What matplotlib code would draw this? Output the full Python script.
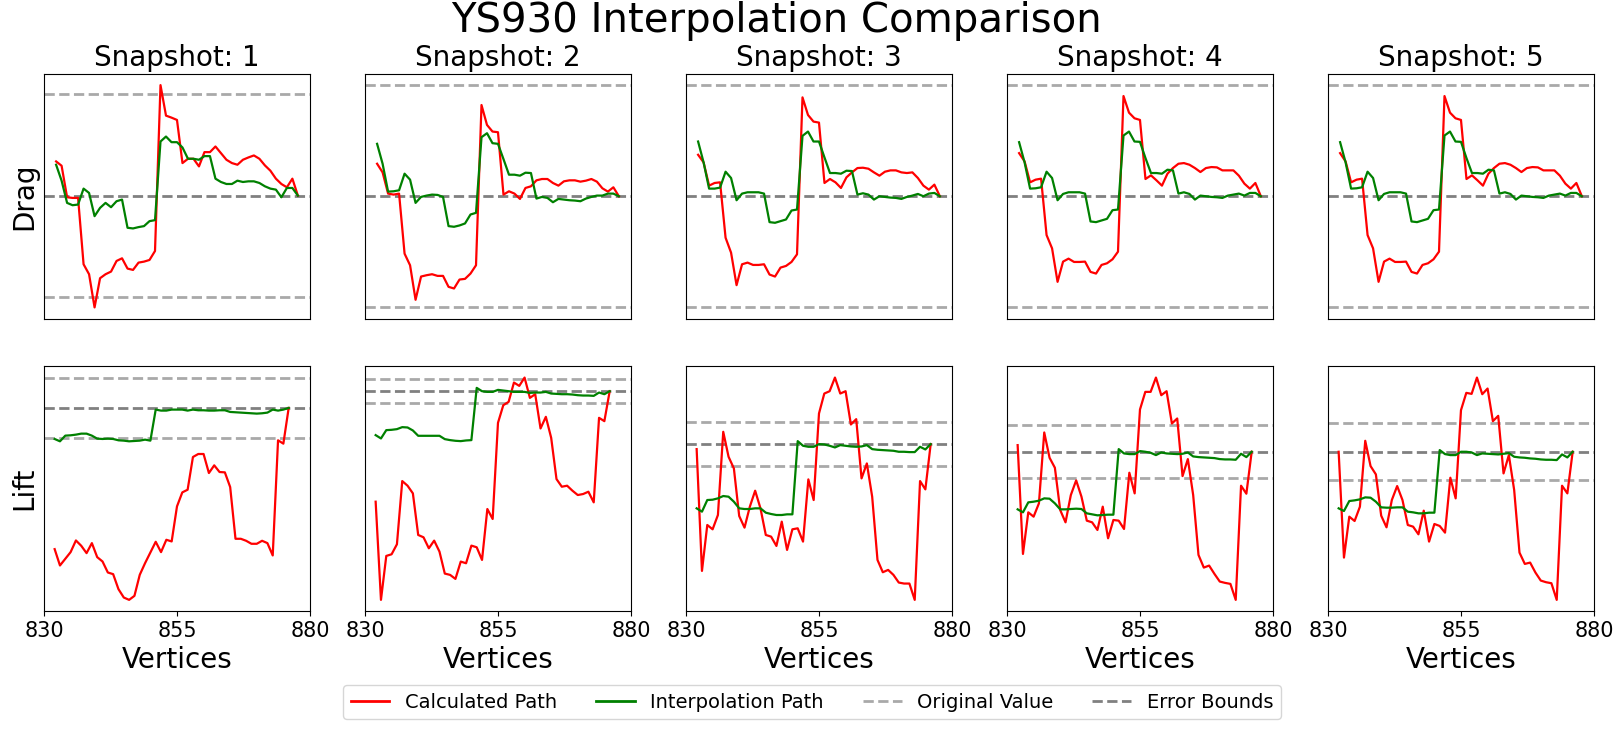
import matplotlib
matplotlib.use("Agg")
import matplotlib.pyplot as plt

# vertex indices on the x axis
vertices = list(range(832, 877))
snapshots = [1, 2, 3, 4, 5]

# values are deviations from the original value (arbitrary units)
drag_calc_1 = [1.03, 0.90, -0.05, -0.07, -0.07, -2.07, -2.37, -3.37, -2.49, -2.37, -2.29, -1.97, -1.89, -2.20, -2.24,
               -2.02, -1.99, -1.94, -1.67, 3.33, 2.41, 2.35, 2.28, 0.98, 1.11, 1.11, 0.88, 1.31, 1.31, 1.48,
               1.28, 1.08, 0.98, 0.93, 1.08, 1.15, 1.21, 1.11, 0.91, 0.75, 0.51, 0.35, 0.25, 0.51, 0.00]
drag_interp_1 = [0.93, 0.45, -0.22, -0.29, -0.27, 0.21, 0.08, -0.62, -0.37, -0.22, -0.35, -0.17, -0.12, -0.97, -0.99,
                 -0.95, -0.92, -0.77, -0.74, 1.63, 1.78, 1.61, 1.61, 1.45, 1.11, 1.11, 1.08, 1.19, 1.19, 0.51,
                 0.41, 0.35, 0.35, 0.45, 0.41, 0.43, 0.43, 0.38, 0.28, 0.21, 0.18, -0.05, 0.23, 0.23, 0.00]

drag_calc_2 = [0.98, 0.72, 0.08, 0.05, 0.08, -1.73, -2.08, -3.12, -2.42, -2.38, -2.35, -2.40, -2.40, -2.73, -2.78,
               -2.51, -2.49, -2.33, -2.08, 2.75, 2.15, 1.95, 1.93, 0.05, 0.15, 0.08, -0.08, 0.25, 0.30, 0.48,
               0.52, 0.52, 0.40, 0.32, 0.45, 0.48, 0.48, 0.44, 0.47, 0.52, 0.44, 0.24, 0.14, 0.27, 0.00]
drag_interp_2 = [1.58, 0.98, 0.14, 0.15, 0.18, 0.68, 0.50, -0.20, -0.02, 0.02, 0.05, 0.04, -0.02, -0.90, -0.92,
                 -0.88, -0.82, -0.55, -0.50, 1.78, 1.90, 1.60, 1.58, 1.12, 0.65, 0.65, 0.62, 0.71, 0.70, -0.07,
                 -0.02, -0.05, -0.18, -0.08, -0.10, -0.12, -0.13, -0.15, -0.07, -0.02, 0.02, 0.02, 0.08, 0.08, 0.00]

drag_calc_3 = [1.25, 1.02, 0.32, 0.40, 0.42, -1.25, -1.70, -2.68, -2.05, -2.00, -2.07, -2.07, -2.05, -2.36, -2.42,
               -2.15, -2.10, -1.98, -1.75, 2.98, 2.45, 2.25, 2.22, 0.40, 0.52, 0.42, 0.25, 0.57, 0.72, 0.85,
               0.86, 0.83, 0.72, 0.62, 0.74, 0.78, 0.78, 0.72, 0.70, 0.72, 0.55, 0.32, 0.20, 0.35, 0.00]
drag_interp_3 = [1.65, 1.02, 0.23, 0.23, 0.26, 0.74, 0.55, -0.12, 0.08, 0.12, 0.12, 0.12, 0.08, -0.78, -0.80,
                 -0.75, -0.70, -0.43, -0.40, 1.82, 1.95, 1.65, 1.65, 1.17, 0.70, 0.70, 0.68, 0.77, 0.76, 0.05,
                 0.09, 0.05, -0.10, 0.00, -0.02, -0.04, -0.05, -0.08, -0.02, 0.02, 0.07, 0.00, 0.08, 0.10, 0.00]

drag_calc_4 = [1.30, 1.05, 0.42, 0.50, 0.53, -1.17, -1.57, -2.58, -1.97, -1.88, -1.98, -1.98, -1.97, -2.28, -2.33,
               -2.07, -2.02, -1.90, -1.67, 3.02, 2.52, 2.35, 2.30, 0.52, 0.63, 0.48, 0.32, 0.68, 0.85, 0.98,
               1.00, 0.95, 0.85, 0.73, 0.85, 0.88, 0.87, 0.78, 0.78, 0.78, 0.62, 0.38, 0.23, 0.40, 0.00]
drag_interp_4 = [1.63, 1.02, 0.23, 0.24, 0.27, 0.74, 0.55, -0.12, 0.07, 0.12, 0.12, 0.12, 0.08, -0.76, -0.78,
                 -0.73, -0.68, -0.42, -0.40, 1.83, 1.95, 1.65, 1.64, 1.15, 0.70, 0.70, 0.68, 0.80, 0.78, 0.08,
                 0.12, 0.07, -0.10, 0.02, 0.00, -0.02, -0.03, -0.05, 0.02, 0.05, 0.08, 0.02, 0.10, 0.10, 0.00]

# snapshot 5 drag matches snapshot 4
drag_calc_5 = list(drag_calc_4)
drag_interp_5 = list(drag_interp_4)

lift_calc_1 = [-4.23, -4.72, -4.52, -4.32, -3.97, -4.13, -4.35, -4.05, -4.47, -4.60, -4.93, -4.98, -5.43, -5.68, -5.75,
               -5.63, -5.00, -4.65, -4.33, -4.01, -4.32, -3.95, -4.00, -2.95, -2.53, -2.45, -1.47, -1.38, -1.38, -1.95,
               -1.72, -1.92, -1.93, -2.37, -3.92, -3.92, -3.98, -4.07, -4.07, -3.98, -4.05, -4.42, -0.97, -1.07, 0.00]
lift_interp_1 = [-0.93, -1.00, -0.83, -0.82, -0.80, -0.77, -0.77, -0.83, -0.92, -0.93, -0.92, -0.93, -0.97, -0.98, -1.00,
                 -0.99, -0.98, -0.95, -0.98, -0.05, -0.08, -0.08, -0.05, -0.05, -0.05, -0.08, -0.05, -0.07, -0.07, -0.08,
                 -0.08, -0.07, -0.07, -0.12, -0.13, -0.14, -0.15, -0.16, -0.17, -0.16, -0.14, -0.05, -0.08, -0.05, 0.00]

lift_calc_2 = [-3.32, -6.27, -4.95, -4.90, -4.60, -2.70, -2.84, -3.07, -4.32, -4.39, -4.72, -4.49, -4.82, -5.48, -5.52,
               -5.64, -5.12, -5.17, -4.64, -4.69, -5.07, -3.54, -3.84, -0.95, -0.42, -0.32, 0.26, 0.16, 0.41, -0.20,
               -0.09, -1.12, -0.77, -1.40, -2.64, -2.87, -2.84, -2.99, -3.12, -3.09, -3.02, -3.34, -0.80, -0.90, 0.00]
lift_interp_2 = [-1.32, -1.42, -1.17, -1.16, -1.14, -1.08, -1.09, -1.18, -1.34, -1.34, -1.34, -1.34, -1.34, -1.44, -1.47,
                 -1.49, -1.50, -1.48, -1.47, 0.10, 0.00, -0.02, -0.02, 0.04, 0.02, 0.00, -0.02, -0.02, -0.02, -0.05,
                 -0.04, -0.04, -0.02, -0.07, -0.08, -0.09, -0.09, -0.10, -0.12, -0.13, -0.13, -0.14, -0.04, -0.09, 0.00]

lift_calc_3 = [-0.15, -3.81, -2.43, -2.56, -2.13, 0.37, -0.38, -0.73, -2.16, -2.51, -1.88, -1.40, -1.93, -2.73, -2.78,
               -3.06, -2.33, -3.18, -2.56, -2.53, -2.93, -1.06, -1.68, 0.92, 1.52, 1.59, 2.00, 1.52, 1.59, 0.59,
               0.75, -1.03, -0.58, -1.58, -3.48, -3.85, -3.78, -3.93, -4.16, -4.19, -4.19, -4.68, -1.11, -1.36, 0.00]
lift_interp_3 = [-1.93, -2.03, -1.68, -1.67, -1.63, -1.56, -1.58, -1.73, -1.93, -1.95, -1.95, -1.93, -1.93, -2.06, -2.10,
                 -2.13, -2.13, -2.11, -2.11, 0.09, -0.05, -0.08, -0.08, 0.00, -0.01, -0.05, -0.10, -0.03, -0.05, -0.07,
                 -0.08, -0.07, -0.03, -0.15, -0.17, -0.18, -0.19, -0.20, -0.23, -0.23, -0.24, -0.24, -0.08, -0.16, 0.00]

lift_calc_4 = [0.20, -3.07, -1.82, -1.95, -1.55, 0.58, -0.18, -0.48, -1.75, -2.12, -1.30, -0.86, -1.35, -2.07, -2.12,
               -2.35, -1.65, -2.60, -2.05, -2.07, -2.32, -0.63, -1.25, 1.27, 1.80, 1.80, 2.23, 1.70, 1.82, 0.85,
               1.00, -0.73, -0.22, -1.30, -3.10, -3.48, -3.42, -3.67, -3.90, -3.94, -3.97, -4.45, -1.02, -1.26, 0.00]
lift_interp_4 = [-1.73, -1.82, -1.52, -1.50, -1.47, -1.40, -1.41, -1.55, -1.73, -1.73, -1.72, -1.71, -1.72, -1.85, -1.88,
                 -1.91, -1.90, -1.89, -1.89, 0.08, -0.05, -0.07, -0.07, 0.02, 0.00, -0.03, -0.10, -0.02, -0.05, -0.06,
                 -0.07, -0.06, -0.02, -0.14, -0.16, -0.17, -0.18, -0.19, -0.22, -0.23, -0.23, -0.24, -0.06, -0.16, 0.00]

lift_calc_5 = [0.00, -3.18, -1.95, -2.08, -1.65, 0.33, -0.43, -0.68, -1.92, -2.27, -1.45, -1.03, -1.45, -2.20, -2.25,
               -2.48, -1.77, -2.70, -2.17, -2.23, -2.43, -0.78, -1.40, 1.25, 1.77, 1.74, 2.23, 1.73, 1.90, 0.92,
               1.08, -0.65, -0.10, -1.15, -3.03, -3.37, -3.33, -3.63, -3.87, -3.92, -3.95, -4.45, -1.02, -1.25, 0.00]
lift_interp_5 = [-1.70, -1.78, -1.48, -1.46, -1.43, -1.37, -1.38, -1.50, -1.67, -1.68, -1.68, -1.67, -1.67, -1.80, -1.82,
                 -1.85, -1.85, -1.83, -1.83, 0.05, -0.07, -0.10, -0.10, 0.00, 0.00, -0.02, -0.10, -0.05, -0.06, -0.07,
                 -0.08, -0.06, -0.04, -0.15, -0.17, -0.18, -0.20, -0.21, -0.23, -0.24, -0.24, -0.25, -0.08, -0.17, 0.00]

original_value = 0.0
drag_bound = [3.05, 3.35, 3.35, 3.35, 3.35]
lift_bound = [0.91, 0.36, 0.67, 0.80, 0.86]

drag_calc = [drag_calc_1, drag_calc_2, drag_calc_3, drag_calc_4, drag_calc_5]
drag_interp = [drag_interp_1, drag_interp_2, drag_interp_3, drag_interp_4, drag_interp_5]
lift_calc = [lift_calc_1, lift_calc_2, lift_calc_3, lift_calc_4, lift_calc_5]
lift_interp = [lift_interp_1, lift_interp_2, lift_interp_3, lift_interp_4, lift_interp_5]

fig, axes = plt.subplots(2, 5, figsize=(16.24, 7.29), dpi=100)
plt.subplots_adjust(left=0.0271, right=0.9815, top=0.8985, bottom=0.1619, wspace=0.207, hspace=0.196)

rows = [("Drag", drag_calc, drag_interp, drag_bound), ("Lift", lift_calc, lift_interp, lift_bound)]
for r, (name, calc, interp, bound) in enumerate(rows):
    for c, snap in enumerate(snapshots):
        ax = axes[r, c]
        ax.axhline(original_value + bound[c], color="darkgray", ls="--", lw=2)
        ax.axhline(original_value - bound[c], color="darkgray", ls="--", lw=2)
        ax.axhline(original_value, color="gray", ls="--", lw=2)
        ax.plot(vertices, calc[c], color="red", lw=1.6)
        ax.plot(vertices, interp[c], color="green", lw=1.6)
        ax.set_yticks([])
        if r == 0:
            ax.set_title("Snapshot: %d" % snap, fontsize=20)
            ax.set_xticks([])
        else:
            ax.set_xlim(830, 880)
            ax.set_xticks([830, 855, 880])
            ax.tick_params(axis="x", labelsize=15)
            ax.set_xlabel("Vertices", fontsize=20)
        if c == 0:
            ax.set_ylabel(name, fontsize=20)

handles = [
    plt.Line2D([], [], color="red", lw=2),
    plt.Line2D([], [], color="green", lw=2),
    plt.Line2D([], [], color="darkgray", ls="--", lw=2),
    plt.Line2D([], [], color="gray", ls="--", lw=2),
]
labels = ["Calculated Path", "Interpolation Path", "Original Value", "Error Bounds"]
fig.legend(handles, labels, loc="lower center", bbox_to_anchor=(0.5, 0.0), ncol=4, fontsize=14)

fig.suptitle("YS930 Interpolation Comparison", fontsize=29, x=0.478, y=0.998)
fig.savefig("out.png", dpi=100)
